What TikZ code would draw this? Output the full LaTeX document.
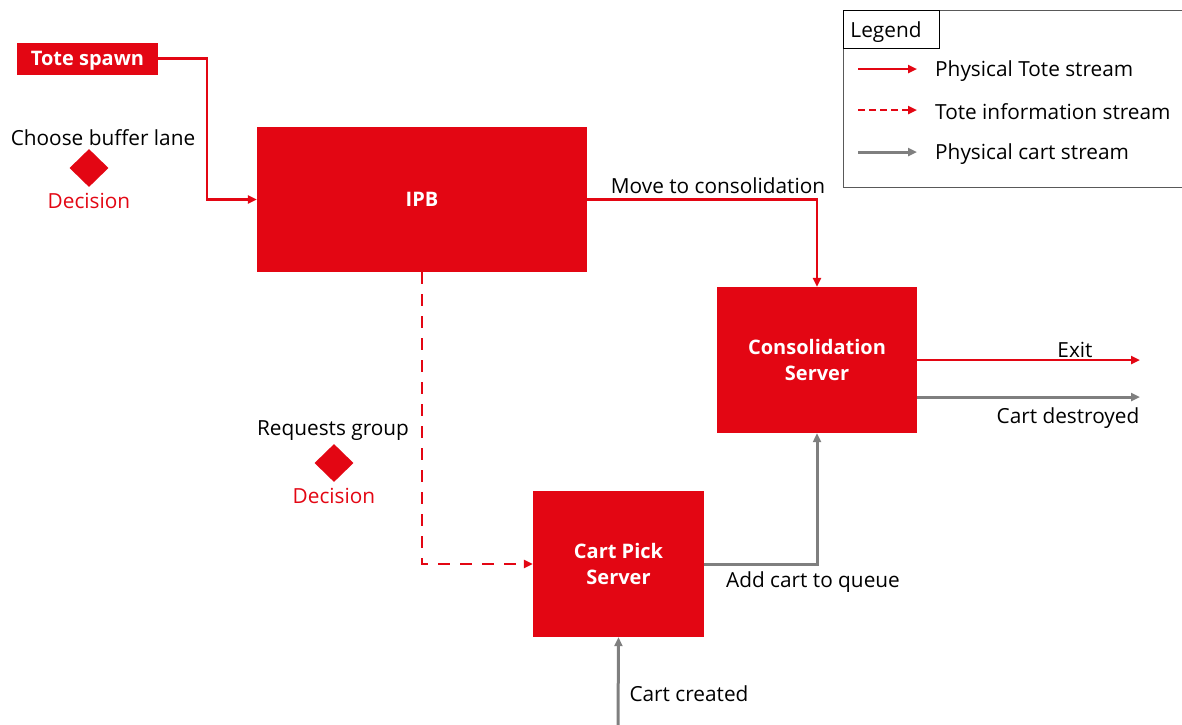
\documentclass[tikz,border=0pt]{standalone}
\usepackage{fontspec}
\setmainfont{Open Sans}
\usetikzlibrary{arrows.meta,shapes.geometric}
\definecolor{dred}{HTML}{E30613}
\definecolor{dgray}{HTML}{7F7F7F}
\definecolor{lgray}{HTML}{595959}
\tikzset{
  box/.style={fill=dred,draw=none,text=white,font=\fontsize{20}{26}\selectfont\bfseries,align=center,inner sep=0pt},
  tip/.style={-{Triangle[length=9pt,width=8pt]}},
  redline/.style={tip,draw=dred,line width=2.8pt},
  redinfo/.style={tip,draw=dred,line width=2.8pt,dash pattern=on 12pt off 10pt},
  grayline/.style={tip,draw=dgray,line width=3pt},
  lbl/.style={font=\fontsize{20.8}{25}\selectfont,text=black,inner sep=0pt,yshift=-2pt},
  declbl/.style={font=\fontsize{20.8}{25}\selectfont,text=dred,inner sep=0pt,yshift=-1pt},
  dec/.style={diamond,fill=dred,draw=none,minimum width=39pt,minimum height=38pt,inner sep=0pt,aspect=1},
}
\begin{document}
\begin{tikzpicture}[x=1pt,y=-1pt]
\useasboundingbox (0,0) rectangle (1182,724);
% boxes
\node[box,minimum width=141pt,minimum height=32pt] (tote) at (87.5,58.5) {};
\node[text=white,font=\fontsize{20}{26}\selectfont\bfseries,inner sep=0pt] (totet) at (87.5,60.5) {Tote spawn};
\node[box,minimum width=330pt,minimum height=145pt] (ipb) at (422,199.5) {IPB};
\node[box,minimum width=200pt,minimum height=146pt] (cons) at (817,360) {Consolidation\\Server};
\node[box,minimum width=171pt,minimum height=146pt] (cart) at (618.5,564) {Cart Pick\\Server};
% decisions
\node[lbl] (cbl) at (103,136) {Choose buffer lane};
\node[dec] (d1) at (89,168) {};
\node[declbl] (d1l) at (89,200) {Decision};
\node[lbl] (rg) at (333,429) {Requests group};
\node[dec] (d2) at (334,463) {};
\node[declbl] (d2l) at (334,495) {Decision};
% connectors
\coordinate (c1) at (207,199.5);
\draw[redline] (tote.east) -| (c1) -- (ipb.west);
\draw[redline] (ipb.east) -| (cons.north);
\node[lbl] (mtc) at (718,184) {Move to consolidation};
\draw[redinfo] (ipb.south) |- (cart.west);
\draw[grayline] (cart.east) -| (cons.south);
\node[lbl] (act) at (813,580) {Add cart to queue};
\coordinate (ex) at (1140,360);
\draw[redline] (cons.east) -- (ex);
\node[lbl] (exl) at (1075,348) {Exit};
\coordinate (cd) at (1140,397);
\draw[grayline] (cons.east |- cd) -- (cd);
\node[lbl] (cdl) at (1068,416) {Cart destroyed};
\coordinate (cc) at (618,726);
\draw[grayline] (cc) -- (cart.south);
\node[lbl] (ccl) at (689,692) {Cart created};
% legend
\draw[lgray,line width=1pt] (843,10) rectangle (1195,187);
\draw[black,line width=0.8pt,fill=white] (843,10) rectangle (939,48);
\node[lbl] (leg) at (886,30) {Legend};
\coordinate (l1a) at (858,69); \coordinate (l1b) at (917,69);
\coordinate (l2a) at (858,110); \coordinate (l2b) at (917,110);
\coordinate (l3a) at (858,152); \coordinate (l3b) at (917,152);
\draw[redline] (l1a) -- (l1b);
\draw[redline,dash pattern=on 7pt off 4pt] (l2a) -- (l2b);
\draw[grayline] (l3a) -- (l3b);
\node[lbl,anchor=west] (t1) at (935,69) {Physical Tote stream};
\node[lbl,anchor=west] (t2) at (935,110) {Tote information stream};
\node[lbl,anchor=west] (t3) at (935,152) {Physical cart stream};
\end{tikzpicture}
\end{document}
